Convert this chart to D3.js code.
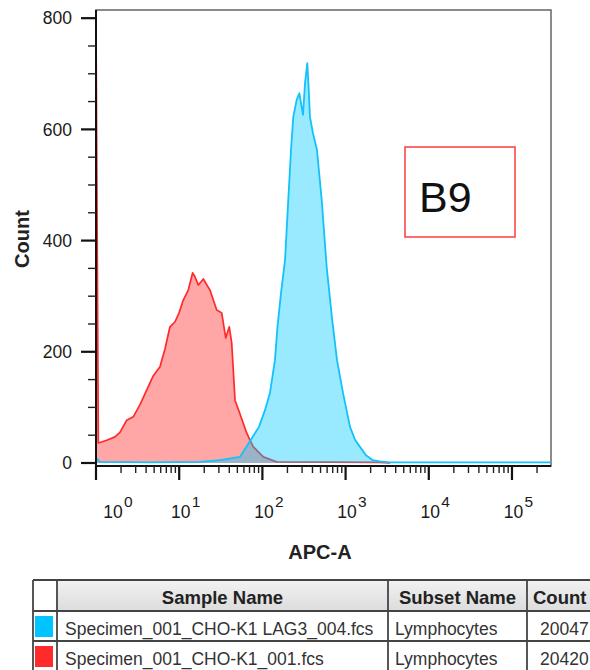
<!DOCTYPE html>
<html>
<head>
<meta charset="utf-8">
<script src="https://cdn.jsdelivr.net/npm/d3@7"></script>
<style>
  html, body { margin: 0; padding: 0; background: #fff; }
  svg { display: block; font-family: "Liberation Sans", Arial, Helvetica, sans-serif; }
</style>
</head>
<body>
<svg id="chart" width="590" height="670"></svg>
<script>
// ---------- data ----------
// x positions stored as log10(APC-A); y = Count
const redLogAPC  = [0, 0.028, 0.129, 0.228, 0.288, 0.369, 0.448, 0.529, 0.609, 0.689, 0.769, 0.829, 0.889, 0.950, 0.998, 1.049, 1.109, 1.162, 1.190, 1.230, 1.290, 1.370, 1.451, 1.511, 1.559, 1.602, 1.631, 1.671, 1.731, 1.811, 1.851, 1.891, 2.011, 2.172, 3.413, 3.534];
const redCount   = [790, 36, 41, 47, 55, 77, 83, 105, 131, 157, 173, 205, 245, 254, 270, 293, 311, 342, 335, 320, 331, 311, 275, 270, 225, 245, 216, 113, 88, 54, 41, 29, 11, 2, 1, 0];

const blueLogAPC = [0, 0.048, 0.649, 1.25, 1.49, 1.73, 1.791, 1.875, 1.959, 2.031, 2.091, 2.151, 2.181, 2.224, 2.272, 2.311, 2.344, 2.371, 2.412, 2.444, 2.472, 2.488, 2.512, 2.540, 2.557, 2.572, 2.608, 2.656, 2.713, 2.773, 2.837, 2.897, 2.969, 3.053, 3.113, 3.173, 3.245, 3.329, 3.413, 3.534, 5.469];
const blueCount  = [9, 2, 1, 2, 5, 11, 25, 45, 65, 95, 126, 185, 245, 306, 365, 473, 563, 622, 653, 665, 640, 626, 683, 719, 671, 622, 593, 563, 473, 352, 260, 185, 126, 65, 42, 29, 14, 5, 3, 1, 1];

const yMajorTicks = [0, 200, 400, 600, 800];
const yMinorTicks = [50, 100, 150, 250, 300, 350, 450, 500, 550, 650, 700, 750];
const xDecadeExps = [0, 1, 2, 3, 4, 5];
const xMinorMult  = [2, 3, 4, 5, 6, 7, 8, 9];

const xTitle = "APC-A";
const yTitle = "Count";
const annotation = "B9";

const headers     = ["", "Sample Name", "Subset Name", "Count"];
const sampleNames = ["Specimen_001_CHO-K1 LAG3_004.fcs", "Specimen_001_CHO-K1_001.fcs"];
const subsetNames = ["Lymphocytes", "Lymphocytes"];
const eventCounts = ["20047", "20420"];
const swatchColors = ["#00c4ff", "#ff2a2a"];

// ---------- layout ----------
const svg = d3.select("#chart");
const plot = { left: 96, right: 551, top: 10, bottom: 466 };

const x = d3.scaleLog().domain([1, Math.pow(10, 5.469)]).range([plot.left, plot.right]);
const y = d3.scaleLinear().domain([-5.4, 814.7]).range([plot.bottom, plot.top]);

svg.append("defs").append("clipPath").attr("id", "clip")
  .append("rect").attr("x", plot.left).attr("y", plot.top)
  .attr("width", plot.right - plot.left).attr("height", plot.bottom - plot.top);

// frame
svg.append("rect").attr("x", plot.left).attr("y", plot.top)
  .attr("width", plot.right - plot.left).attr("height", plot.bottom - plot.top)
  .attr("fill", "#fff").attr("stroke", "#6e6e6e").attr("stroke-width", 1.6);

const redPts  = redLogAPC.map((d, i) => [Math.pow(10, d), redCount[i]]);
const bluePts = blueLogAPC.map((d, i) => [Math.pow(10, d), blueCount[i]]);

const area = d3.area().x(d => x(d[0])).y0(y(0)).y1(d => y(d[1]));
const line = d3.line().x(d => x(d[0])).y(d => y(d[1]));

const g = svg.append("g").attr("clip-path", "url(#clip)");
g.append("path").datum(redPts).attr("d", area).attr("fill", "rgba(255,0,0,0.35)");
g.append("path").datum(redPts).attr("d", line).attr("fill", "none")
  .attr("stroke", "#ff2a2a").attr("stroke-width", 1.7).attr("stroke-linejoin", "round");
g.append("path").datum(bluePts).attr("d", area).attr("fill", "rgba(0,200,255,0.4)");
g.append("path").datum(bluePts).attr("d", line).attr("fill", "none")
  .attr("stroke", "#12c2fa").attr("stroke-width", 1.8).attr("stroke-linejoin", "round");

// axes lines
svg.append("line").attr("x1", plot.left).attr("x2", plot.left)
  .attr("y1", plot.top).attr("y2", plot.bottom + 1).attr("stroke", "#111").attr("stroke-width", 2);
svg.append("line").attr("x1", plot.left - 1).attr("x2", plot.right)
  .attr("y1", plot.bottom).attr("y2", plot.bottom).attr("stroke", "#111").attr("stroke-width", 2);

// y ticks
const yAxisG = svg.append("g");
yAxisG.selectAll("line.major").data(yMajorTicks).join("line")
  .attr("x1", plot.left - 15).attr("x2", plot.left)
  .attr("y1", d => y(d)).attr("y2", d => y(d))
  .attr("stroke", "#111").attr("stroke-width", 2.2);
yAxisG.selectAll("line.minor").data(yMinorTicks).join("line")
  .attr("x1", plot.left - 8).attr("x2", plot.left)
  .attr("y1", d => y(d)).attr("y2", d => y(d))
  .attr("stroke", "#222").attr("stroke-width", 1.4);
yAxisG.selectAll("text").data(yMajorTicks).join("text")
  .attr("x", plot.left - 24).attr("y", d => y(d)).attr("dy", "0.35em")
  .attr("text-anchor", "end").attr("font-size", 17.5).attr("fill", "#1a1a1a")
  .text(d => d);

// x ticks
const minorVals = [];
xDecadeExps.forEach(e => xMinorMult.forEach(m => {
  const v = m * Math.pow(10, e);
  if (v <= x.domain()[1]) minorVals.push(v);
}));
const xAxisG = svg.append("g");
xAxisG.selectAll("line.minor").data(minorVals).join("line")
  .attr("x1", d => x(d)).attr("x2", d => x(d))
  .attr("y1", plot.bottom).attr("y2", plot.bottom + 7)
  .attr("stroke", "#222").attr("stroke-width", 1.4);
xAxisG.selectAll("line.major").data(xDecadeExps).join("line")
  .attr("x1", d => x(Math.pow(10, d))).attr("x2", d => x(Math.pow(10, d)))
  .attr("y1", plot.bottom).attr("y2", plot.bottom + 14)
  .attr("stroke", "#111").attr("stroke-width", 2.2);
const xl = xAxisG.selectAll("g.lab").data(xDecadeExps).join("g")
  .attr("transform", (d, i) => `translate(${x(Math.pow(10, d)) + (i === 0 ? 17 : 1.5)},518)`);
xl.append("text").attr("text-anchor", "middle").attr("font-size", 17.5).attr("fill", "#1a1a1a").text("10");
xl.append("text").attr("x", 11).attr("y", -11).attr("font-size", 15.5).attr("fill", "#1a1a1a").text(d => d);

// titles
svg.append("text").attr("x", 320).attr("y", 559).attr("text-anchor", "middle")
  .attr("font-size", 20).attr("font-weight", "bold").attr("fill", "#222").text(xTitle);
svg.append("text").attr("transform", "translate(29,239) rotate(-90)").attr("text-anchor", "middle")
  .attr("font-size", 20).attr("font-weight", "bold").attr("fill", "#222").text(yTitle);

// annotation box
svg.append("rect").attr("x", 405).attr("y", 147).attr("width", 110).attr("height", 90)
  .attr("fill", "none").attr("stroke", "#ff3b3b").attr("stroke-width", 1.5);
svg.append("text").attr("x", 419).attr("y", 212).attr("font-size", 43).attr("fill", "#111").text(annotation);

// ---------- legend table ----------
const colX = [33, 57, 388, 527, 660];
const rowY = [580, 611, 641, 672];
const defs = svg.select("defs");
const grad = defs.append("linearGradient").attr("id", "hdr").attr("x1", 0).attr("x2", 0).attr("y1", 0).attr("y2", 1);
grad.append("stop").attr("offset", "0%").attr("stop-color", "#f2f2f2");
grad.append("stop").attr("offset", "100%").attr("stop-color", "#dcdcdc");

const tbl = svg.append("g");
tbl.append("rect").attr("x", colX[1]).attr("y", rowY[0]).attr("width", colX[4] - colX[1]).attr("height", rowY[1] - rowY[0])
  .attr("fill", "url(#hdr)");
// horizontal lines
tbl.selectAll("line.h").data(rowY.slice(0, 3)).join("line")
  .attr("x1", colX[0]).attr("x2", colX[4]).attr("y1", d => d).attr("y2", d => d)
  .attr("stroke", "#444").attr("stroke-width", 1.8);
// vertical lines
tbl.selectAll("line.v").data(colX.slice(0, 4)).join("line")
  .attr("x1", d => d).attr("x2", d => d).attr("y1", rowY[0]).attr("y2", rowY[3])
  .attr("stroke", "#444").attr("stroke-width", 1.8);

// headers
const hdrX = [null, (colX[1] + colX[2]) / 2, (colX[2] + colX[3]) / 2, 533];
const hdrAnchor = [null, "middle", "middle", "start"];
headers.forEach((h, i) => {
  if (!h) return;
  tbl.append("text").attr("x", hdrX[i]).attr("y", 604).attr("text-anchor", hdrAnchor[i])
    .attr("font-size", 18.5).attr("font-weight", "bold").attr("fill", "#222").text(h);
});
// rows
sampleNames.forEach((s, i) => {
  const top = rowY[i + 1];
  tbl.append("rect").attr("x", 35).attr("y", top + 5).attr("width", 18).attr("height", 21)
    .attr("fill", swatchColors[i]);
  const base = top + 23.5;
  tbl.append("text").attr("x", 65).attr("y", base).attr("font-size", 17.5).attr("fill", "#333").text(s);
  tbl.append("text").attr("x", 395).attr("y", base).attr("font-size", 17.5).attr("fill", "#333").text(subsetNames[i]);
  tbl.append("text").attr("x", 540).attr("y", base).attr("font-size", 17.5).attr("fill", "#333").text(eventCounts[i]);
});
</script>
</body>
</html>
